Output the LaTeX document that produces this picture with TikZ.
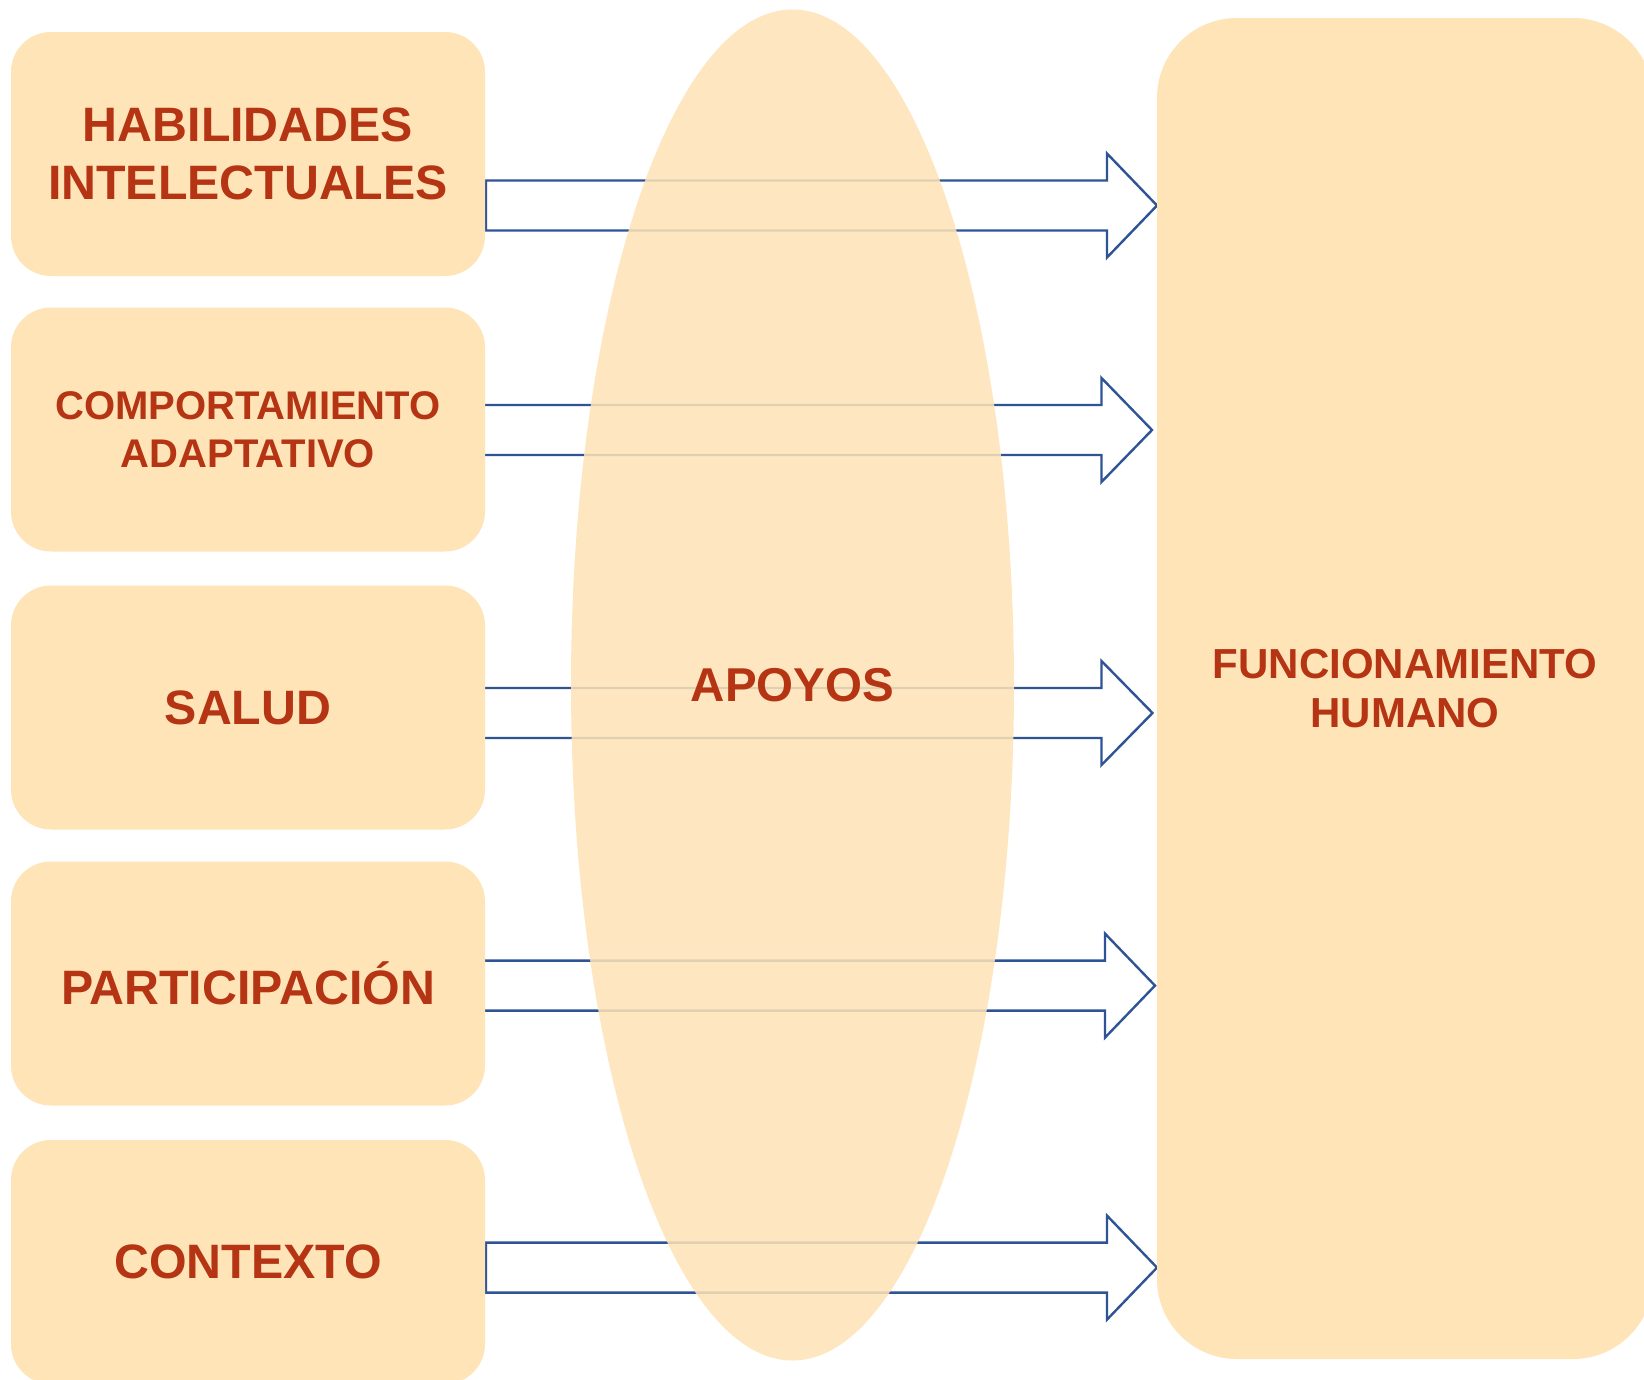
\documentclass[tikz,border=0pt]{standalone}
\usepackage{fontspec}
\setmainfont{Liberation Sans}
\usetikzlibrary{shapes.geometric}
\definecolor{boxfill}{RGB}{254,228,182}
\definecolor{txtred}{RGB}{181,52,20}
\definecolor{arrblue}{RGB}{47,84,150}
\pgfdeclarelayer{bglayer}
\pgfsetlayers{bglayer,main}
\tikzset{
  lbox/.style={fill=boxfill, draw=none, rounded corners=40pt, minimum width=474pt,
    minimum height=244pt, inner sep=0pt, align=center, text=txtred,
    font=\fontsize{48.3}{58}\selectfont\bfseries},
  rbox/.style={fill=boxfill, draw=none, rounded corners=80pt, minimum width=496pt,
    minimum height=1341pt, inner sep=0pt, align=center, text=txtred,
    font=\fontsize{42}{49.5}\selectfont\bfseries},
  oval/.style={ellipse, fill=boxfill, fill opacity=0.86, text opacity=1, draw=none,
    minimum width=443pt, minimum height=1351pt, inner sep=0pt, text=txtred,
    font=\fontsize{47.5}{56}\selectfont\bfseries},
  blockarr/.style={draw=arrblue, fill=white, line width=2.4pt, line join=miter}
}
\newcommand\myblockarrow[4]{% left x, centre y, head base x, tip x
  \draw[blockarr] (#1,#2-25) -- (#3,#2-25) -- (#3,#2-52) -- (#4,#2)
     -- (#3,#2+52) -- (#3,#2+25) -- (#1,#2+25) -- cycle;}
\begin{document}
\begin{tikzpicture}[x=1pt,y=-1pt]
\useasboundingbox (0,0) rectangle (1644,1379);
% left boxes
\node[lbox] (hab) at (248,154) {HABILIDADES\\INTELECTUALES};
\node[lbox, font=\fontsize{40}{48}\selectfont\bfseries] (com) at (248,429.5) {COMPORTAMIENTO\\ADAPTATIVO};
\node[lbox] (sal) at (248,707.5) {SALUD};
\node[lbox] (par) at (248,983.5) {PARTICIPACIÓN};
\node[lbox] (con) at (248,1262) {CONTEXTO};
% right box
\node[rbox] (fun) at (1405,688.5) {FUNCIONAMIENTO\\HUMANO};
% arrows behind
\begin{pgfonlayer}{bglayer}
\fill[white] (0,0) rectangle (1644,1379);
\myblockarrow{486}{205.5}{1107}{1157}
\myblockarrow{470}{430}{1101.5}{1152}
\myblockarrow{470}{713}{1101.5}{1152.5}
\myblockarrow{470}{985.6}{1105}{1155}
\myblockarrow{486}{1267.6}{1107}{1157}
\end{pgfonlayer}
% ellipse over arrows
\node[oval] (apo) at (792.5,685) {APOYOS};
\end{tikzpicture}
\end{document}
